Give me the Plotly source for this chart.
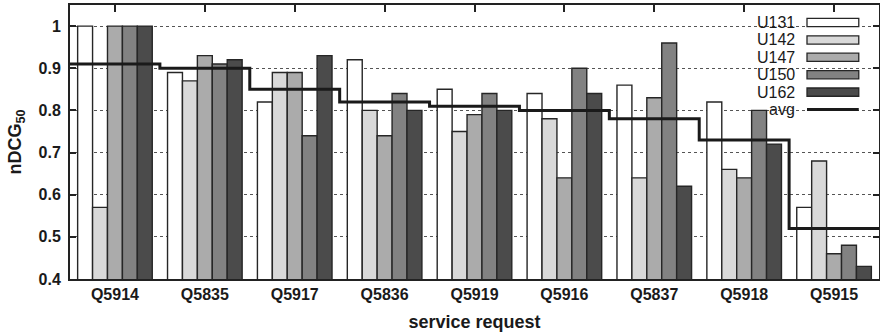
import plotly.graph_objects as go

categories = ["Q5914", "Q5835", "Q5917", "Q5836", "Q5919", "Q5916", "Q5837", "Q5918", "Q5915"]
U131 = [1.00, 0.89, 0.82, 0.92, 0.85, 0.84, 0.86, 0.82, 0.57]
U142 = [0.57, 0.87, 0.89, 0.80, 0.75, 0.78, 0.64, 0.66, 0.68]
U147 = [1.00, 0.93, 0.89, 0.74, 0.79, 0.64, 0.83, 0.64, 0.46]
U150 = [1.00, 0.91, 0.74, 0.84, 0.84, 0.90, 0.96, 0.80, 0.48]
U162 = [1.00, 0.92, 0.93, 0.80, 0.80, 0.84, 0.62, 0.72, 0.43]
avg = [0.91, 0.90, 0.85, 0.82, 0.81, 0.80, 0.78, 0.73, 0.52]
series_names = ["U131", "U142", "U147", "U150", "U162"]
series_values = [U131, U142, U147, U150, U162]
fill_colors = ["#ffffff", "#d9d9d9", "#ababab", "#828282", "#4b4b4b"]
y_ticks = [0.4, 0.5, 0.6, 0.7, 0.8, 0.9, 1.0]
y_ticktext = ["0.4", "0.5", "0.6", "0.7", "0.8", "0.9", "1"]

FONT = "Liberation Sans, Arial, sans-serif"
idx = list(range(len(categories)))
xr = [-0.5, len(categories) - 0.5]

fig = go.Figure()
for name, vals, col in zip(series_names, series_values, fill_colors):
    fig.add_trace(go.Bar(
        x=idx, y=vals, name=name, base=0,
        marker=dict(color=col, line=dict(color="#262626", width=1.4)),
        showlegend=False,
    ))

# step line for the average, spanning each category slot
step_x = [i - 0.5 for i in idx] + [idx[-1] + 0.5]
step_y = avg + [avg[-1]]
fig.add_trace(go.Scatter(
    x=step_x, y=step_y, mode="lines", line=dict(color="#1a1a1a", width=3, shape="hv"),
    name="avg", showlegend=False, xaxis="x2",
))

fig.update_layout(
    template="none",
    width=880, height=335,
    margin=dict(l=70, r=1, t=5, b=56),
    paper_bgcolor="white", plot_bgcolor="white",
    barmode="group", bargap=0.17, bargroupgap=0,
    font=dict(family=FONT, color="#1a1a1a"),
    xaxis=dict(
        automargin=False,
        range=xr, tickmode="array", tickvals=idx, ticktext=categories,
        ticks="", showline=True, linecolor="#222", linewidth=2, mirror=True,
        showgrid=False, zeroline=False,
        tickfont=dict(size=16, family=FONT, weight="bold", color="#1a1a1a"),
        title=dict(text="service request", font=dict(size=18, family=FONT, weight="bold", color="#1a1a1a"), standoff=13),
    ),
    xaxis2=dict(
        automargin=False, anchor="y",
        range=xr, overlaying="x", side="top", tickmode="array", tickvals=idx,
        ticks="inside", ticklen=7, tickcolor="#222", tickwidth=1.5,
        showticklabels=False, showline=False, showgrid=False, zeroline=False,
    ),
    yaxis=dict(
        automargin=False,
        range=[0.4, 1.05], tickmode="array", tickvals=y_ticks, ticktext=y_ticktext,
        ticks="inside", ticklen=6, tickcolor="#222", tickwidth=1.5,
        showline=True, linecolor="#222", linewidth=2, mirror="ticks",
        showgrid=True, gridcolor="#555", griddash="dot", gridwidth=1,
        zeroline=False, ticklabelstandoff=4,
        tickfont=dict(size=16, family=FONT, weight="bold", color="#1a1a1a"),
        title=dict(text="nDCG<sub>50</sub>", font=dict(size=18, family=FONT, weight="bold", color="#1a1a1a"), standoff=12),
    ),
)

# gnuplot-style legend: text right-aligned, sample to its right
row_top = 0.936
row_step = 0.0635
text_x = 0.899
sw_x0, sw_x1 = 0.911, 0.975
legend_names = series_names + ["avg"]
for k, name in enumerate(legend_names):
    yc = row_top - k * row_step
    fig.add_annotation(
        x=text_x, y=yc, xref="paper", yref="paper", text=name, showarrow=False,
        xanchor="right", yanchor="middle", font=dict(size=16, family=FONT, color="#1a1a1a"),
    )
    if k < len(series_names):
        fig.add_shape(type="rect", xref="paper", yref="paper",
                      x0=sw_x0, x1=sw_x1, y0=yc - 0.015, y1=yc + 0.015,
                      fillcolor=fill_colors[k], line=dict(color="#262626", width=1.3))
    else:
        fig.add_shape(type="line", xref="paper", yref="paper",
                      x0=sw_x0, x1=sw_x1, y0=yc, y1=yc,
                      line=dict(color="#1a1a1a", width=3))

fig.write_html(
    "out.html",
    config={"displayModeBar": False},
    post_script="document.body.style.margin='0';document.body.style.padding='0';",
)
